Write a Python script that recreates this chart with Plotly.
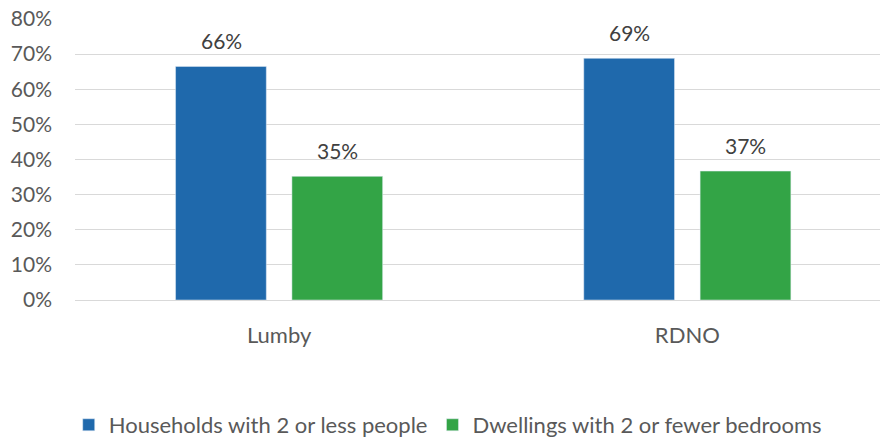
import plotly.graph_objects as go

categories = ["Lumby", "RDNO"]
households_2_or_less = [0.665, 0.688]
dwellings_2_or_fewer = [0.352, 0.367]
households_labels = ["66%", "69%"]
dwellings_labels = ["35%", "37%"]

font_family = "Lato, Open Sans, sans-serif"
text_color = "#595959"
label_color = "#404040"

fig = go.Figure()
fig.add_trace(go.Bar(
    name="Households with 2 or less people", x=categories, y=households_2_or_less,
    marker=dict(color="#1F69AC"),
))
fig.add_trace(go.Bar(
    name="Dwellings with 2 or fewer bedrooms", x=categories, y=dwellings_2_or_fewer,
    marker=dict(color="#33A446"),
))

# data labels above bars
offset_px = 58
for vals, labels, shift in [(households_2_or_less, households_labels, -offset_px),
                            (dwellings_2_or_fewer, dwellings_labels, offset_px)]:
    for c, v, t in zip(categories, vals, labels):
        fig.add_annotation(x=c, y=v, text=t, showarrow=False, xref="x", yref="y",
                           xshift=shift, yanchor="bottom", yshift=11,
                           font=dict(size=21, color=label_color, family=font_family))

fig.update_layout(
    width=881, height=439,
    margin=dict(l=75, r=1, t=19, b=139),
    paper_bgcolor="white", plot_bgcolor="white",
    barmode="group", bargap=0.43, bargroupgap=0.22,
    font=dict(family=font_family, color=text_color, size=21),
    legend=dict(orientation="h", x=0.463, xanchor="center", yref="container", y=0.032,
                yanchor="middle", font=dict(size=22, color=text_color), itemwidth=30,
                tracegroupgap=0),
    xaxis=dict(range=[-0.5, 1.472], showgrid=False, ticks="", showline=False,
               tickfont=dict(size=22, color=text_color), ticklabelstandoff=20),
    yaxis=dict(range=[0, 0.8], dtick=0.1, tickformat=".0%", gridcolor="#D9D9D9", gridwidth=1,
               zeroline=True, zerolinecolor="#D9D9D9", zerolinewidth=1,
               tickfont=dict(size=21, color=text_color), ticklabelstandoff=22),
)

fig.write_html("out.html", config={"displayModeBar": False},
               post_script="document.body.style.margin='0';")
